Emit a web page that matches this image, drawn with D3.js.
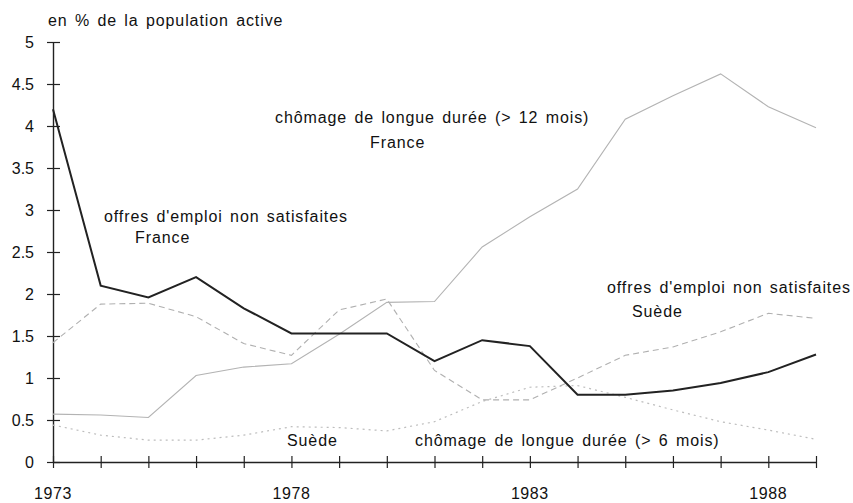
<!DOCTYPE html>
<html>
<head>
<meta charset="utf-8">
<script src="https://cdn.jsdelivr.net/npm/d3@7"></script>
<style>
	body { margin: 0; background: #fff; }
	text { font-family: "Liberation Sans", Arial, Helvetica, sans-serif; fill: #111; }
</style>
</head>
<body>
<script>
//chart values, one value per year 1973-1989
var years = d3.range(1973, 1990);
var yearLabels = [1973, 1978, 1983, 1988];
var yTicks = [0, 0.5, 1, 1.5, 2, 2.5, 3, 3.5, 4, 4.5, 5];

//offres d'emploi non satisfaites, France (black)
var offresFrance = [4.2, 2.1, 1.96, 2.2, 1.83, 1.53, 1.53, 1.53, 1.2, 1.45, 1.38, 0.8, 0.8, 0.85, 0.94, 1.07, 1.28];
//chomage de longue duree > 12 mois, France (grey solid)
var chomageFrance = [0.57, 0.56, 0.53, 1.03, 1.13, 1.17, 1.52, 1.9, 1.91, 2.56, 2.92, 3.25, 4.08, 4.36, 4.62, 4.23, 3.98];
//offres d'emploi non satisfaites, Suede (dashed)
var offresSuede = [1.42, 1.88, 1.89, 1.73, 1.41, 1.27, 1.81, 1.94, 1.09, 0.74, 0.74, 1.0, 1.27, 1.37, 1.55, 1.77, 1.71];
//chomage de longue duree > 6 mois, Suede (dotted)
var chomageSuede = [0.44, 0.32, 0.26, 0.26, 0.32, 0.42, 0.41, 0.37, 0.48, 0.72, 0.89, 0.91, 0.77, 0.62, 0.48, 0.38, 0.27];

var width = 853;
var height = 503;

var svg = d3.select("body").append("svg")
	.attr("width", width)
	.attr("height", height)
	.attr("xmlns", "http://www.w3.org/2000/svg");

var x = d3.scaleLinear().domain([1973, 1989]).range([53, 816]);
var y = d3.scaleLinear().domain([0, 5]).range([462, 42]);

var line = d3.line()
	.x(function(d, i){ return x(years[i]); })
	.y(function(d){ return y(d); });

//axes, ticks cross the axis line like the original
var yAxis = svg.append("g")
	.attr("transform", "translate(" + x(1973) + ",0)")
	.call(d3.axisLeft(y).tickValues(yTicks).tickSize(6).tickFormat(d3.format("")).tickSizeOuter(0));
yAxis.selectAll(".tick line").attr("x1", 7).attr("x2", -6);
yAxis.selectAll(".tick text")
	.attr("x", -19)
	.style("font-size", "16px")
	.style("font-family", "'Liberation Sans', Arial, sans-serif")
	.attr("fill", "#111");

var xAxis = svg.append("g")
	.attr("transform", "translate(0," + y(0) + ")")
	.call(d3.axisBottom(x).tickValues(years).tickSize(6).tickFormat("").tickSizeOuter(0));
xAxis.selectAll(".tick line").attr("y1", -6).attr("y2", 6);

svg.selectAll(".domain").attr("stroke", "#222").attr("stroke-width", 1.4);
svg.selectAll(".tick line").attr("stroke", "#222").attr("stroke-width", 1.2);

svg.selectAll(".yearLabel")
	.data(yearLabels)
	.enter().append("text")
	.attr("class", "yearLabel")
	.attr("x", function(d){ return x(d); })
	.attr("y", 499)
	.attr("text-anchor", "middle")
	.style("font-size", "16px")
	.style("letter-spacing", "0.6px")
	.text(function(d){ return d; });

//the four series
svg.append("path")
	.attr("d", line(chomageSuede))
	.attr("fill", "none")
	.attr("stroke", "#bdbdbd")
	.attr("stroke-width", 1.2)
	.attr("stroke-dasharray", "2,4");

svg.append("path")
	.attr("d", line(offresSuede))
	.attr("fill", "none")
	.attr("stroke", "#b0b0b0")
	.attr("stroke-width", 1.1)
	.attr("stroke-dasharray", "6,4");

svg.append("path")
	.attr("d", line(chomageFrance))
	.attr("fill", "none")
	.attr("stroke", "#b3b3b3")
	.attr("stroke-width", 1.1);

svg.append("path")
	.attr("d", line(offresFrance))
	.attr("fill", "none")
	.attr("stroke", "#222")
	.attr("stroke-width", 2);

//texts
var addLabel = function(txt, lx, ly){
	svg.append("text")
		.attr("x", lx)
		.attr("y", ly)
		.style("font-size", "16px")
		.style("letter-spacing", "0.9px")
		.style("word-spacing", "2px")
		.text(txt);
};

addLabel("en % de la population active", 48, 26);
addLabel("chômage de longue durée (> 12 mois)", 275, 123);
addLabel("France", 370, 148);
addLabel("offres d'emploi non satisfaites", 104, 222);
addLabel("France", 135, 243);
addLabel("offres d'emploi non satisfaites", 607, 293);
addLabel("Suède", 632, 317);
addLabel("Suède", 287, 446);
addLabel("chômage de longue durée (> 6 mois)", 415, 446);
</script>
</body>
</html>
